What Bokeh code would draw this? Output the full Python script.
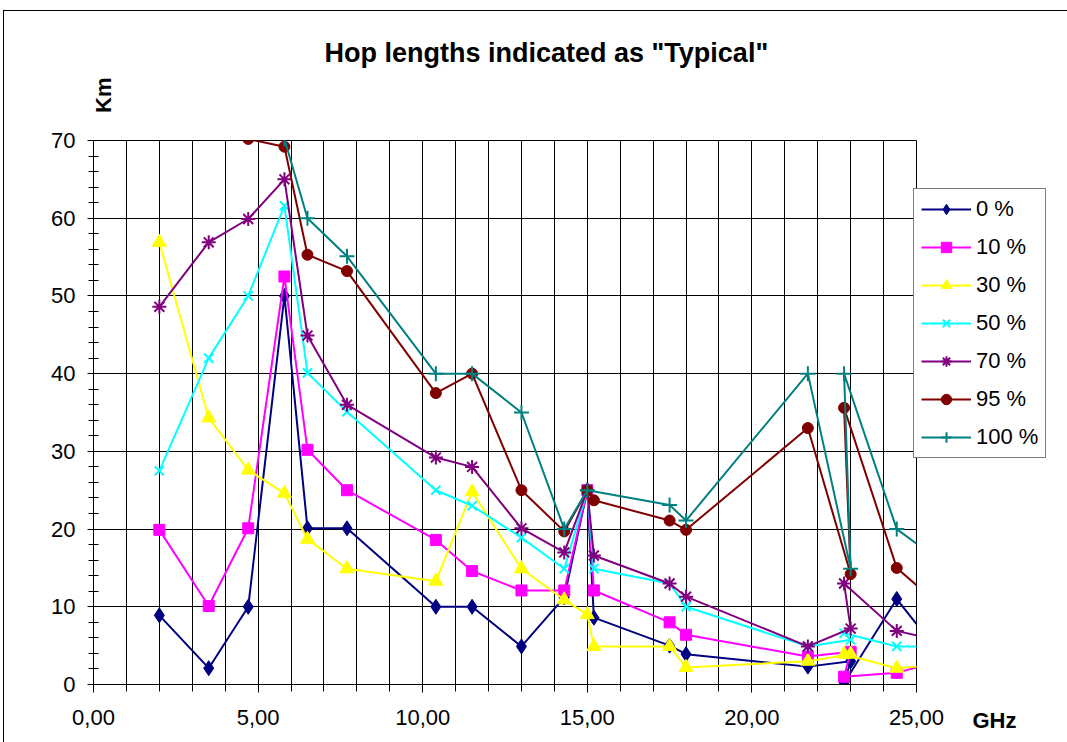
import numpy as np
from bokeh.plotting import figure
from bokeh.models import (FixedTicker, Legend, LegendItem, Range1d, Title)
from bokeh.embed import file_html
from bokeh.resources import INLINE

# ---------------- data ----------------
freq = [2.0, 3.5, 4.7, 5.8, 6.5, 7.7, 10.4, 11.5, 13.0, 14.3, 15.0, 15.2,
        17.5, 18.0, 21.7, 23.0, 22.8, 24.4, 26.0]
freq_95 = [4.7, 5.8, 6.5, 7.7, 10.4, 11.5, 13.0, 14.3, 15.0, 15.2,
           17.5, 18.0, 21.7, 23.0, 22.8, 24.4, 26.0]
freq_100 = [4.7, 5.8, 6.5, 7.7, 10.4, 11.5, 13.0, 14.3, 15.0,
            17.5, 18.0, 21.7, 23.0, 22.8, 24.4, 26.0]

km_0 = [8.9, 2.1, 10.0, 50.0, 20.1, 20.1, 10.0, 10.0, 4.9, 11.2, 25.0, 8.6,
        5.0, 3.9, 2.3, 3.0, 0.2, 11.0, 2.4]
km_10 = [19.9, 10.1, 20.1, 52.5, 30.2, 25.0, 18.6, 14.6, 12.1, 12.1, 25.0, 12.1,
         8.0, 6.4, 3.6, 4.2, 1.0, 1.5, 3.4]
km_30 = [56.9, 34.3, 27.6, 24.6, 18.7, 14.9, 13.3, 24.8, 14.9, 10.9, 9.0, 4.9,
         4.9, 2.2, 3.0, 3.9, 3.9, 2.1, 2.7]
km_50 = [27.5, 42.0, 50.0, 61.6, 40.1, 35.1, 25.0, 23.0, 18.9, 14.9, 25.0, 14.9,
         13.0, 10.0, 4.9, 5.75, 6.6, 4.9, 4.9]
km_70 = [48.6, 56.9, 59.9, 65.0, 44.9, 36.0, 29.2, 28.0, 20.1, 17.0, 25.0, 16.6,
         13.0, 11.3, 4.9, 7.2, 13.0, 6.9, 5.35]
km_95 = [70.2, 69.2, 55.3, 53.2, 37.5, 40.0, 25.0, 19.7, 25.0, 23.7,
         21.1, 19.9, 33.0, 14.2, 35.6, 15.0, 9.1]
km_100 = [75.0, 70.2, 60.0, 55.1, 40.0, 40.0, 35.0, 20.0, 25.0,
          23.1, 21.1, 40.0, 14.9, 40.0, 20.0, 15.0]

series_names = ["0 %", "10 %", "30 %", "50 %", "70 %", "95 %", "100 %"]

x_ticks = [0, 5, 10, 15, 20, 25]
x_tick_labels = ["0,00", "5,00", "10,00", "15,00", "20,00", "25,00"]
x_minor = list(range(0, 26))
y_ticks = [0, 10, 20, 30, 40, 50, 60, 70]
y_minor = list(range(0, 71, 2))

title_text = 'Hop lengths indicated as "Typical"'
y_title = "Km"
x_title = "GHz"

# ---------------- styling ----------------
FONT = "Liberation Sans"
colors = ["#000080", "#FF00FF", "#FFFF00", "#00FFFF", "#800080", "#800000", "#008080"]
markers = ["diamond", "square", "triangle", "x", "asterisk", "circle", "cross"]
msizes = [15, 11, 14, 13, 14, 11, 15]
filled = [True, True, True, False, False, True, False]

p = figure(frame_width=823, frame_height=544,
           x_range=Range1d(0, 25), y_range=Range1d(0, 70),
           output_backend="svg", toolbar_location=None,
           min_border_left=89, min_border_right=151,
           min_border_top=129, min_border_bottom=58,
           background_fill_color="white", border_fill_color="white")

p.outline_line_color = "black"
p.outline_line_width = 1

# axes
p.xaxis.ticker = FixedTicker(ticks=x_ticks, minor_ticks=x_minor)
p.xaxis.major_label_overrides = dict(zip(x_ticks, x_tick_labels))
p.yaxis.ticker = FixedTicker(ticks=y_ticks, minor_ticks=y_minor)
for ax in (p.xaxis[0], p.yaxis[0]):
    ax.axis_line_color = "black"
    ax.axis_line_width = 1
    ax.major_tick_line_color = "black"
    ax.minor_tick_line_color = "black"
    ax.major_label_text_font = FONT
    ax.major_label_text_font_size = "22px"
    ax.major_label_text_color = "black"
p.xaxis.major_tick_in = 0
p.xaxis.major_tick_out = 8
p.xaxis.minor_tick_in = 0
p.xaxis.minor_tick_out = 7
p.xaxis.major_label_standoff = 17
p.yaxis.major_tick_in = 0
p.yaxis.major_tick_out = 6
p.yaxis.minor_tick_in = 5
p.yaxis.minor_tick_out = 5
p.yaxis.major_label_standoff = 12

# grid
p.xgrid.grid_line_color = "black"
p.xgrid.minor_grid_line_color = "black"
p.xgrid.grid_line_width = 1
p.xgrid.minor_grid_line_width = 1
p.ygrid.grid_line_color = "black"
p.ygrid.grid_line_width = 1

xs_all = [freq, freq, freq, freq, freq, freq_95, freq_100]
ys_all = [km_0, km_10, km_30, km_50, km_70, km_95, km_100]

items = []
for i, name in enumerate(series_names):
    xs, ys, c = xs_all[i], ys_all[i], colors[i]
    lr = p.line(xs, ys, line_color=c, line_width=2)
    if filled[i]:
        sr = p.scatter(xs, ys, marker=markers[i], size=msizes[i],
                       fill_color=c, line_color=c, line_width=1)
    else:
        sr = p.scatter(xs, ys, marker=markers[i], size=msizes[i],
                       line_color=c, line_width=2)
    items.append(LegendItem(label=name, renderers=[lr, sr]))

legend = Legend(items=items, location=(-3, 226),
                label_text_font=FONT, label_text_font_size="22px",
                label_text_color="black",
                glyph_width=50, glyph_height=26, label_standoff=5,
                padding=7, spacing=12, margin=0,
                border_line_color="black", border_line_width=1,
                background_fill_color="white", background_fill_alpha=1.0)
p.add_layout(legend, "right")

# spacer above the frame, then the main title further up
p.add_layout(Title(text=" ", text_font_size="2px", standoff=69), "above")
p.add_layout(Title(text=title_text, align="left", offset=231, standoff=0,
                   text_font=FONT, text_font_style="bold", text_font_size="27px",
                   text_color="black"), "above")

p.add_layout(Title(text=y_title, align="right", offset=-63, standoff=-135,
                   text_font=FONT, text_font_style="bold", text_font_size="22px",
                   text_color="black"), "left")
p.add_layout(Title(text=x_title, align="left", offset=879, standoff=-40,
                   vertical_align="top",
                   text_font=FONT, text_font_style="bold", text_font_size="22px",
                   text_color="black"), "below")

p.styles = {"border-left": "1px solid black", "border-top": "1px solid black",
            "margin-left": "3px", "margin-top": "10px"}

open("out.html", "w").write(file_html(p, INLINE))
